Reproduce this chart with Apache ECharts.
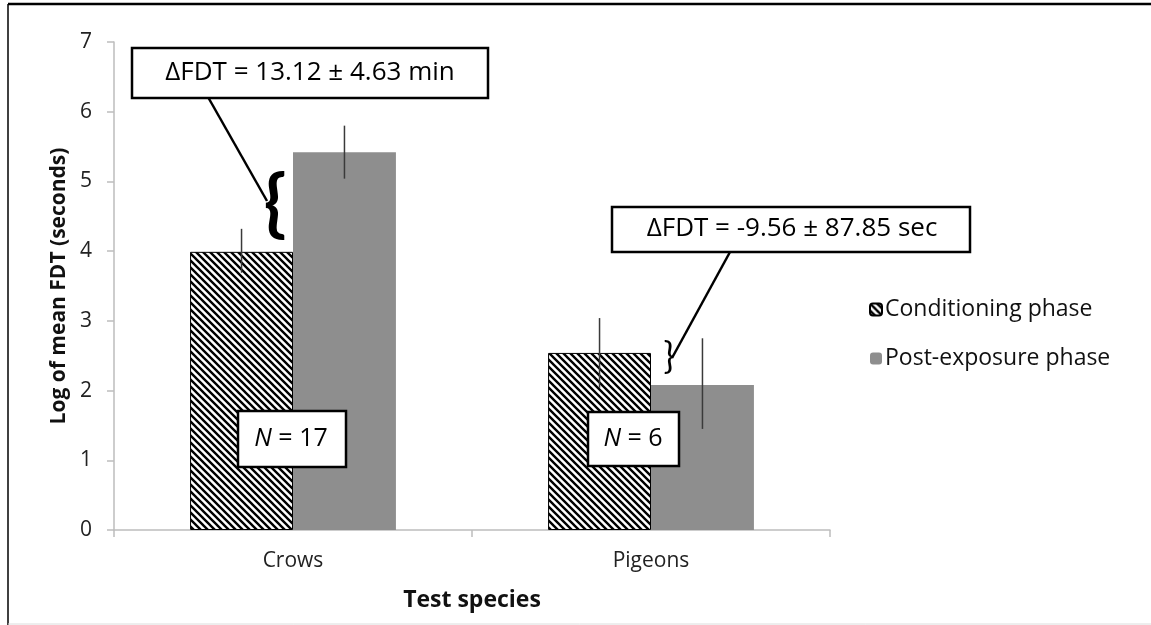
<!DOCTYPE html>
<html>
<head>
<meta charset="utf-8">
<script src="https://cdn.jsdelivr.net/npm/echarts@6/dist/echarts.min.js"></script>
<style>
  html, body { margin: 0; padding: 0; background: #fff; }
  #chart { width: 1151px; height: 625px; }
</style>
</head>
<body>
<div id="chart"></div>
<script>
// data
const categories = ['Crows', 'Pigeons'];
const conditioning = [3.99, 2.54];
const postExposure = [5.42, 2.08];
const conditioningLow = [3.69, 2.04];
const conditioningHigh = [4.32, 3.04];
const postLow = [5.04, 1.45];
const postHigh = [5.80, 2.75];
const yTicks = [0, 1, 2, 3, 4, 5, 6, 7];

const FONT = 'Open Sans';

// diagonal hatch for the conditioning bars
function hatch() {
  const s = 7;
  const c = document.createElement('canvas');
  c.width = s; c.height = s;
  const ctx = c.getContext('2d');
  ctx.fillStyle = '#fff';
  ctx.fillRect(0, 0, s, s);
  ctx.strokeStyle = '#000';
  ctx.lineWidth = 2.4;
  ctx.beginPath();
  ctx.moveTo(-1, -1); ctx.lineTo(s + 1, s + 1);
  ctx.moveTo(-1, s - 1); ctx.lineTo(1, s + 1);
  ctx.moveTo(s - 1, -1); ctx.lineTo(s + 1, 1);
  ctx.stroke();
  return c;
}

const barFrac = 0.575;

function errorSeries(low, high, side) {
  return {
    type: 'custom',
    silent: true,
    z: 5,
    data: categories.map((c, i) => [i, low[i], high[i]]),
    renderItem(params, api) {
      const band = api.size([1, 0])[0];
      const off = side * band * barFrac / 4;
      const a = api.coord([api.value(0), api.value(1)]);
      const b = api.coord([api.value(0), api.value(2)]);
      return {
        type: 'line',
        shape: { x1: a[0] + off, y1: a[1], x2: b[0] + off, y2: b[1] },
        style: { stroke: '#3a3a3a', lineWidth: 1.5 }
      };
    }
  };
}

const chart = echarts.init(document.getElementById('chart'));

const boxStyle = { fill: '#fff', stroke: '#000', lineWidth: 2.5 };

chart.setOption({
  animation: false,
  backgroundColor: '#fff',
  textStyle: { fontFamily: FONT },
  grid: { left: 114, right: 321, top: 42, bottom: 95 },
  legend: {
    orient: 'vertical',
    left: 864,
    top: 293,
    itemWidth: 12,
    itemHeight: 12,
    itemGap: 26,
    data: ['Conditioning phase', 'Post-exposure phase'],
    textStyle: { fontFamily: FONT, fontSize: 23, color: '#111', padding: [0, 0, 0, -2] }
  },
  xAxis: {
    type: 'category',
    data: categories,
    name: 'Test species',
    nameLocation: 'middle',
    nameGap: 59,
    nameTextStyle: { fontFamily: FONT, fontSize: 23, fontWeight: 'bold', color: '#111' },
    axisLine: { lineStyle: { color: '#bdbdbd', width: 1.5 } },
    axisTick: { show: true, length: 7, lineStyle: { color: '#bdbdbd', width: 1.5 } },
    axisLabel: { fontFamily: FONT, fontSize: 21, color: '#222', margin: 21 }
  },
  yAxis: {
    type: 'value',
    min: 0,
    max: 7,
    interval: 1,
    name: 'Log of mean FDT (seconds)',
    nameLocation: 'middle',
    nameGap: 40,
    nameTextStyle: { fontFamily: FONT, fontSize: 21, fontWeight: 'bold', color: '#111' },
    axisLine: { show: true, lineStyle: { color: '#bdbdbd', width: 1.5 } },
    axisTick: { show: true, length: 7, lineStyle: { color: '#bdbdbd', width: 1.5 } },
    splitLine: { show: false },
    axisLabel: {
      fontFamily: FONT, fontSize: 21, color: '#222', margin: 22,
      formatter: v => (yTicks.indexOf(v) >= 0 ? String(v) : '')
    }
  },
  series: [
    {
      name: 'Conditioning phase',
      type: 'bar',
      data: conditioning,
      barGap: '0%',
      barCategoryGap: '42.5%',
      itemStyle: { color: { image: hatch(), repeat: 'repeat' }, borderColor: '#000', borderWidth: 1 }
    },
    {
      name: 'Post-exposure phase',
      type: 'bar',
      data: postExposure,
      barGap: '0%',
      barCategoryGap: '42.5%',
      itemStyle: { color: '#8e8e8e' }
    },
    errorSeries(conditioningLow, conditioningHigh, -1),
    errorSeries(postLow, postHigh, 1)
  ],
  graphic: [
    // frame
    { type: 'line', shape: { x1: 8, y1: 4, x2: 1151, y2: 4 }, style: { stroke: '#000', lineWidth: 2.5 } },
    { type: 'line', shape: { x1: 8, y1: 4, x2: 8, y2: 625 }, style: { stroke: '#000', lineWidth: 1.5 } },
    { type: 'line', shape: { x1: 8, y1: 624, x2: 1151, y2: 624 }, style: { stroke: '#dcdcdc', lineWidth: 1 } },
    // crows annotation
    { type: 'line', z: 10, shape: { x1: 208, y1: 97, x2: 267, y2: 201 }, style: { stroke: '#000', lineWidth: 2.5 } },
    { type: 'text', z: 10, x: 275, y: 204, style: { text: '{', fontFamily: 'Lato', fontSize: 74, fontWeight: 'bold', fill: '#000', align: 'center', verticalAlign: 'middle' } },
    { type: 'rect', z: 10, shape: { x: 132, y: 48, width: 356, height: 50 }, style: boxStyle },
    { type: 'text', z: 11, x: 310, y: 73, style: { text: 'ΔFDT = 13.12 ± 4.63 min', fontFamily: FONT, fontSize: 26, fill: '#000', align: 'center', verticalAlign: 'middle' } },
    // pigeons annotation
    { type: 'line', z: 10, shape: { x1: 730, y1: 252, x2: 672, y2: 358 }, style: { stroke: '#000', lineWidth: 2.5 } },
    { type: 'text', z: 10, x: 669, y: 357, style: { text: '}', fontFamily: 'Lato', fontSize: 36, fill: '#000', align: 'center', verticalAlign: 'middle' } },
    { type: 'rect', z: 10, shape: { x: 612, y: 207, width: 358, height: 45 }, style: boxStyle },
    { type: 'text', z: 11, x: 792, y: 229, style: { text: 'ΔFDT = -9.56 ± 87.85 sec', fontFamily: FONT, fontSize: 26, fill: '#000', align: 'center', verticalAlign: 'middle' } },
    // sample sizes
    { type: 'rect', z: 10, shape: { x: 238, y: 411, width: 108, height: 56 }, style: boxStyle },
    {
      type: 'text', z: 11, x: 291, y: 439,
      style: {
        text: '{i|N} = 17', align: 'center', verticalAlign: 'middle',
        fontFamily: FONT, fontSize: 25, fill: '#000',
        rich: { i: { fontFamily: FONT, fontSize: 25, fontStyle: 'italic', fill: '#000' } }
      }
    },
    { type: 'rect', z: 10, shape: { x: 588, y: 412, width: 91, height: 54 }, style: boxStyle },
    {
      type: 'text', z: 11, x: 633, y: 439,
      style: {
        text: '{i|N} = 6', align: 'center', verticalAlign: 'middle',
        fontFamily: FONT, fontSize: 25, fill: '#000',
        rich: { i: { fontFamily: FONT, fontSize: 25, fontStyle: 'italic', fill: '#000' } }
      }
    }
  ]
});
</script>
</body>
</html>
